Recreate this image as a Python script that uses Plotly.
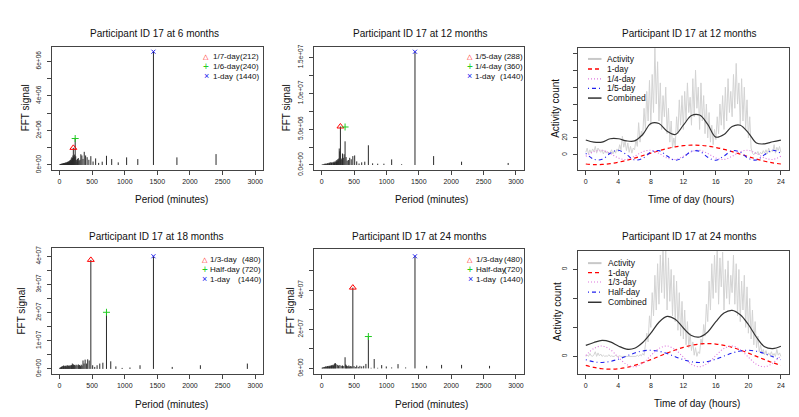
import plotly.graph_objects as go

W, H = 799, 417
FONT = "Liberation Sans, Arial, sans-serif"

# ---------------- FFT spectra (period in minutes -> FFT signal) ----------------
fft6_period = [2400, 1800, 1440, 1200, 1028.6, 900, 800, 720, 654.5, 600, 553.8, 514.3, 480, 450,
               423.5, 400, 378.9, 360, 342.9, 327.3, 313.0, 300, 288, 276.9, 266.7, 257.1, 248.3, 240,
               232.3, 225, 218.2, 211.8, 205.7, 200, 194.6, 189.5, 184.6, 180, 175.6, 171.4, 167.4,
               163.6, 160, 156.5, 150, 144, 138.5, 133.3, 128.6, 124.1, 120, 114.3, 109.1, 102.9, 96,
               90, 84.7, 80, 75, 70, 65, 60, 55, 50, 45, 40, 35, 30, 25, 20, 15, 10, 5]
fft6_signal = [0.63e6, 0.44e6, 6.55e6, 0.34e6, 0.44e6, 0.15e6, 0.34e6, 0.53e6, 0.19e6, 0.12e6, 0.38e6,
               0.2e6, 0.51e6, 0.3e6, 0.45e6, 0.55e6, 0.76e6, 0.35e6, 0.55e6, 0.62e6, 0.3e6, 0.25e6,
               0.4e6, 0.35e6, 0.2e6, 0.3e6, 0.5e6, 1.53e6, 0.6e6, 0.45e6, 0.5e6, 0.99e6, 0.55e6, 0.4e6,
               0.3e6, 0.45e6, 0.25e6, 0.38e6, 0.22e6, 0.3e6, 0.18e6, 0.28e6, 0.2e6, 0.25e6, 0.18e6,
               0.22e6, 0.15e6, 0.2e6, 0.14e6, 0.18e6, 0.12e6, 0.16e6, 0.12e6, 0.15e6, 0.1e6, 0.14e6,
               0.1e6, 0.12e6, 0.09e6, 0.11e6, 0.08e6, 0.1e6, 0.07e6, 0.09e6, 0.06e6, 0.08e6, 0.05e6,
               0.07e6, 0.05e6, 0.06e6, 0.04e6, 0.05e6, 0.03e6]

fft12_period = [2880, 2160, 1728, 1440, 1234.3, 1080, 960, 864, 785.5, 720, 664.6, 617.1, 576, 540,
                508.2, 480, 454.7, 432, 411.4, 392.7, 375.7, 360, 345.6, 332.3, 320, 308.6, 297.9, 288,
                278.7, 270, 261.8, 254.1, 246.9, 240, 233.5, 227.4, 221.5, 216, 205.7, 196.4, 188, 180,
                172.8, 160, 150, 140, 130, 120, 110, 100, 90, 80, 70, 60, 50, 40, 30, 20, 10, 5]
fft12_signal = [0.28e6, 0.46e6, 1.24e6, 15.8e6, 0.1e6, 0.78e6, 0.18e6, 0.18e6, 0.23e6, 2.75e6, 0.46e6,
                0.37e6, 0.2e6, 0.5e6, 1.33e6, 1.24e6, 0.8e6, 1.0e6, 0.7e6, 0.6e6, 1.1e6, 3.3e6, 1.5e6,
                1.0e6, 1.6e6, 0.9e6, 0.7e6, 5.37e6, 1.9e6, 2.3e6, 0.9e6, 0.6e6, 0.8e6, 0.5e6, 0.7e6,
                0.45e6, 0.6e6, 0.4e6, 0.5e6, 0.35e6, 0.45e6, 0.3e6, 0.4e6, 0.3e6, 0.35e6, 0.25e6, 0.4e6,
                0.25e6, 0.3e6, 0.2e6, 0.25e6, 0.15e6, 0.2e6, 0.15e6, 0.2e6, 0.12e6, 0.1e6, 0.08e6,
                0.05e6, 0.04e6]

fft18_period = [2880, 2160, 1728, 1440, 1234.3, 1080, 960, 864, 785.5, 720, 664.6, 617.1, 576, 540,
                508.2, 480, 454.7, 432, 411.4, 392.7, 375.7, 360, 345.6, 332.3, 320, 308.6, 297.9, 288,
                270, 254.1, 240, 227.4, 216, 205.7, 196.4, 188, 180, 172.8, 160, 150, 140, 130, 120,
                110, 100, 90, 80, 70, 60, 50, 40, 30, 20, 10, 5]
fft18_signal = [0.19e7, 0.13e7, 0.07e7, 4.0e7, 0.13e7, 0.05e7, 0.035e7, 0.09e7, 0.27e7, 2.01e7, 0.22e7,
                0.19e7, 0.13e7, 0.07e7, 0.13e7, 3.87e7, 0.3e7, 0.34e7, 0.19e7, 0.33e7, 0.19e7, 0.3e7,
                0.12e7, 0.15e7, 0.1e7, 0.14e7, 0.12e7, 0.16e7, 0.13e7, 0.15e7, 0.12e7, 0.14e7, 0.16e7,
                0.13e7, 0.19e7, 0.12e7, 0.14e7, 0.11e7, 0.13e7, 0.1e7, 0.12e7, 0.1e7, 0.13e7, 0.09e7,
                0.12e7, 0.1e7, 0.11e7, 0.08e7, 0.12e7, 0.09e7, 0.1e7, 0.07e7, 0.06e7, 0.05e7, 0.03e7]

fft24_period = [2592, 2160, 1851.4, 1620, 1440, 1296, 1178.2, 1080, 996.9, 925.7, 864, 810, 762.4, 720,
                682.1, 648, 617.1, 589.1, 563.5, 540, 518.4, 498.5, 480, 462.9, 446.9, 432, 418.1, 405,
                392.7, 381.2, 370.3, 360, 340, 320, 300, 280, 260, 240, 220, 210, 200, 190, 180, 170,
                160, 150, 140, 130, 120, 110, 100, 90, 80, 70, 60, 50, 40, 30, 20, 10, 5]
fft24_signal = [0.13e7, 0.18e7, 0.18e7, 0.13e7, 5.73e7, 0.05e7, 0.22e7, 0.05e7, 0.1e7, 0.17e7, 0.03e7,
                0.48e7, 0.03e7, 1.63e7, 0.23e7, 0.13e7, 0.1e7, 0.13e7, 0.08e7, 0.15e7, 0.07e7, 0.12e7,
                4.13e7, 0.1e7, 0.12e7, 0.1e7, 0.15e7, 0.1e7, 0.12e7, 0.15e7, 0.2e7, 0.57e7, 0.12e7,
                0.15e7, 0.13e7, 0.17e7, 0.15e7, 0.18e7, 0.22e7, 0.27e7, 0.25e7, 0.2e7, 0.15e7, 0.18e7,
                0.13e7, 0.16e7, 0.12e7, 0.15e7, 0.11e7, 0.13e7, 0.1e7, 0.12e7, 0.1e7, 0.09e7, 0.1e7,
                0.08e7, 0.07e7, 0.06e7, 0.05e7, 0.04e7, 0.03e7]

# highlighted peaks
peak6_period = [212, 240, 1440]
peak6_signal = [0.99e6, 1.53e6, 6.55e6]
peak6_label = ["1/7-day", "1/6-day", "1-day"]
peak12_period = [288, 360, 1440]
peak12_signal = [5.37e6, 5.30e6, 15.8e6]
peak12_label = ["1/5-day", "1/4-day", "1-day"]
peak18_period = [480, 720, 1440]
peak18_signal = [3.87e7, 2.01e7, 4.00e7]
peak18_label = ["1/3-day", "Half-day", "1-day"]
peak24_period = [480, 720, 1440]
peak24_signal = [4.13e7, 1.63e7, 5.73e7]
peak24_label = ["1/3-day", "Half-day", "1-day"]

# ---------------- Daily activity profiles ----------------
minutes = list(range(0, 1441, 10))
act12 = [3, 8, 1, 6, 2, 7, 4, 10, 2, 8, 5, 3, 6, 1, 5, 2, 4, 0, 3, 6, 1, 5, 2, 7,
         4, 12, 6, 22, 9, 16, 5, 14, 3, 10, 2, 8, 6, 18, 10, 38, 15, 28, 22, 55, 30, 75, 40, 88,
         35, 95, 50, 128, 60, 110, 40, 85, 30, 70, 45, 80, 25, 55, 15, 40, 8, 20,
         10, 45, 25, 65, 35, 70, 30, 75, 40, 85, 50, 68, 35, 90, 45, 100, 55, 80,
         30, 85, 40, 70, 25, 60, 20, 50, 15, 35, 12, 30, 18, 45, 25, 60, 35, 70,
         30, 80, 40, 90, 50, 75, 45, 95, 55, 108, 60, 85, 35, 90, 40, 80, 30, 65,
         20, 45, 8, 2, 0, 3, 1, 4, 0, 3, 1, 5, 2, 6, 1, 8, 3, 5, 4, 12, 2, 9, 5, 10, 3]
act24 = [0, 2, 0, 5, 1, 0, 3, 8, 0, 6, 1, 4, 0, 2, 0, 1, 0, 3, 0, 1, 0, 0, 2, 0,
         0, 1, 0, 0, 0, 1, 0, 0, 1, 0, 0, 0, 1, 0, 2, 0, 3, 1, 5, 2, 20, 40, 25, 70,
         50, 110, 70, 140, 80, 160, 90, 175, 110, 190, 100, 185, 80, 170, 95, 150, 70, 140,
         60, 130, 45, 110, 35, 95, 30, 80, 20, 60, 15, 40, 10, 25, 2, 15, 0, 8,
         5, 30, 20, 55, 35, 90, 60, 130, 80, 160, 100, 175, 110, 195, 90, 170, 120, 180,
         80, 150, 100, 165, 90, 140, 110, 175, 90, 160, 70, 150, 60, 130, 80, 140, 50, 120,
         40, 100, 30, 80, 20, 60, 15, 35, 8, 20, 5, 12, 3, 10, 1, 6, 2, 8, 1, 5, 0, 12, 2, 6, 0]

hours = list(range(25))
m12_oneday = [-10.8, -11.5, -11.3, -10.4, -8.7, -6.5, -3.8, -0.9, 2.1, 4.9, 7.5, 9.5, 10.8, 11.5,
              11.3, 10.4, 8.7, 6.5, 3.8, 0.9, -2.1, -4.9, -7.5, -9.5, -10.8]
m12_quarter = [-1.7, 3.7, 5.4, 1.7, -3.7, -5.4, -1.7, 3.7, 5.4, 1.7, -3.7, -5.4, -1.7, 3.7, 5.4, 1.7,
               -3.7, -5.4, -1.7, 3.7, 5.4, 1.7, -3.7, -5.4, -1.7]
m12_fifth = [1.8, -5.3, -5.3, 1.8, 5.4, 0.3, -6.0, -4.2, 3.2, 5.0, -1.3, -6.4, -2.8, 4.3, 4.3, -2.8,
             -6.4, -1.3, 5.0, 3.2, -4.2, -6.0, 0.3, 5.4, 1.8]
m12_combined = [17.5, 15, 15, 19, 19, 16.5, 16.5, 24, 37, 37, 28, 24, 35, 46.5, 47, 36, 21, 24, 33.5,
                35, 26, 14, 13, 15.5, 17.5]

m24_oneday = [-15.6, -19.1, -21.3, -22, -21.3, -19.1, -15.6, -11, -5.7, 0, 5.7, 11, 15.6, 19.1, 21.3,
              22, 21.3, 19.1, 15.6, 11, 5.7, 0, -5.7, -11, -15.6]
m24_third = [1.4, 13.7, 17.9, 11.7, -1.4, -13.7, -17.9, -11.7, 1.4, 13.7, 17.9, 11.7, -1.4, -13.7,
             -17.9, -11.7, 1.4, 13.7, 17.9, 11.7, -1.4, -13.7, -17.9, -11.7, 1.4]
m24_half = [-5.7, -9.4, -10.5, -8.8, -4.8, 0.5, 5.7, 9.4, 10.5, 8.8, 4.8, -0.5, -5.7, -9.4, -10.5,
            -8.8, -4.8, 0.5, 5.7, 9.4, 10.5, 8.8, 4.8, -0.5, -5.7]
m24_combined = [19, 24, 27.5, 25, 18, 12.5, 14, 24, 40, 59, 69, 64, 49, 36, 33.5, 42, 60, 75, 79.5, 72,
                55, 33, 16.5, 13.5, 17.5]

for a, b in [(fft6_period, fft6_signal), (fft12_period, fft12_signal), (fft18_period, fft18_signal),
             (fft24_period, fft24_signal), (minutes, act12), (minutes, act24)]:
    assert len(a) == len(b), (len(a), len(b))

# ---------------- styling ----------------
AX = "#444444"
RED, GREEN, BLUE, VIOLET = "#ff0000", "#22cc22", "#2020ee", "#dd77dd"
DASH, DOT, DASHDOT = "4px,3px", "1px,2px", "1px,3px,4px,3px"
SYMBOLS = ["triangle-up-open", "cross-thin-open", "x-thin-open"]
SYM_COL = [RED, GREEN, BLUE]
SYM_SIZE = [6, 5, 4]
SYM_TXT = ["\u25B3", "+", "\u00D7"]

fig = go.Figure()


def add_fft(n, period, signal, pk_period, pk_signal):
    xs, ys = [], []
    for p, s in zip(period, signal):
        xs += [p, p, None]
        ys += [0, s, None]
    fig.add_trace(go.Scatter(x=xs, y=ys, mode="lines", line=dict(color="#2a2a2a", width=1),
                             xaxis=f"x{n}", yaxis=f"y{n}"))
    for i in range(3):
        fig.add_trace(go.Scatter(x=[pk_period[i]], y=[pk_signal[i]], mode="markers",
                                 marker=dict(symbol=SYMBOLS[i], size=SYM_SIZE[i], color=SYM_COL[i],
                                             line=dict(width=1, color=SYM_COL[i])),
                                 xaxis=f"x{n}", yaxis=f"y{n}"))


def add_daily(n, act, comps, combined):
    fig.add_trace(go.Scatter(x=[m / 60 for m in minutes], y=act, mode="lines",
                             line=dict(color="#d3d3d3", width=1), xaxis=f"x{n}", yaxis=f"y{n}"))
    for vals, col, dash, w in comps:
        fig.add_trace(go.Scatter(x=hours, y=vals, mode="lines", line_shape="spline",
                                 line=dict(color=col, dash=dash, width=w),
                                 xaxis=f"x{n}", yaxis=f"y{n}"))
    fig.add_trace(go.Scatter(x=hours, y=combined, mode="lines", line_shape="spline",
                             line=dict(color="#333333", width=1.2), xaxis=f"x{n}", yaxis=f"y{n}"))


add_fft(1, fft6_period, fft6_signal, peak6_period, peak6_signal)
add_fft(2, fft12_period, fft12_signal, peak12_period, peak12_signal)
add_daily(3, act12, [(m12_oneday, RED, DASH, 1.2), (m12_quarter, VIOLET, DOT, 1.1),
                     (m12_fifth, BLUE, DASHDOT, 1.1)], m12_combined)
add_fft(4, fft18_period, fft18_signal, peak18_period, peak18_signal)
add_fft(5, fft24_period, fft24_signal, peak24_period, peak24_signal)
add_daily(6, act24, [(m24_oneday, RED, DASH, 1.2), (m24_third, VIOLET, DOT, 1.1),
                     (m24_half, BLUE, DASHDOT, 1.1)], m24_combined)

# panel boxes in pixels: (x0, x1, ytop, ybottom)
boxes = {1: (43.7, 255, 37, 162), 2: (306, 515.7, 37, 162), 3: (570, 780.7, 38, 162),
         4: (43.7, 255, 242.3, 370.7), 5: (306, 515.7, 243.3, 370.7), 6: (570, 780.7, 245, 370.7)}

per_ticks = [0, 500, 1000, 1500, 2000, 2500, 3000]
hr_ticks = [0, 4, 8, 12, 16, 20, 24]
yspec = {
    1: ([-0.262e6, 6.81e6], [0, 1e6, 2e6, 3e6, 4e6, 5e6, 6e6],
        ["0e+00", "", "2e+06", "", "4e+06", "", "6e+06"]),
    2: ([-0.63e6, 16.43e6], [0, 2.5e6, 5e6, 7.5e6, 1e7, 1.25e7, 1.5e7],
        ["0.0e+00", "", "5.0e+06", "", "1.0e+07", "", "1.5e+07"]),
    3: ([-17.3, 126], [0, 20, 40, 60, 80, 100, 120], ["0", "20", "", "", "", "", ""]),
    4: ([-0.17e7, 4.29e7], [0, 0.5e7, 1e7, 1.5e7, 2e7, 2.5e7, 3e7, 3.5e7, 4e7],
        ["0e+00", "", "1e+07", "", "2e+07", "", "3e+07", "", "4e+07"]),
    5: ([-0.27e7, 6.1e7], [0, 1e7, 2e7, 3e7, 4e7, 5e7],
        ["0e+00", "", "2e+07", "", "4e+07", ""]),
    6: ([-29.9, 182.4], [0, 50, 100, 150], ["0", "", "", "0"]),
}

layout = dict(width=W, height=H, margin=dict(l=0, r=0, t=0, b=0), paper_bgcolor="white",
              plot_bgcolor="white", showlegend=False, hovermode=False,
              font=dict(family=FONT, color="#222"))
for n, (x0, x1, yt, yb) in boxes.items():
    daily = n in (3, 6)
    common = dict(showline=True, mirror=True, linecolor=AX, linewidth=1, ticks="outside", ticklen=4,
                  tickwidth=1, tickcolor=AX, showgrid=False, zeroline=False)
    layout[f"xaxis{n}"] = dict(domain=[x0 / W, x1 / W], anchor=f"y{n}",
                               range=[-0.96, 24.96] if daily else [-120, 3120],
                               tickvals=hr_ticks if daily else per_ticks,
                               ticktext=[str(v) for v in (hr_ticks if daily else per_ticks)],
                               tickfont=dict(size=7, color="#222"), ticklabelstandoff=1, **common)
    rng, tv, tt = yspec[n]
    layout[f"yaxis{n}"] = dict(domain=[1 - yb / H, 1 - yt / H], anchor=f"x{n}", range=rng,
                               tickvals=tv, ticktext=tt, tickangle=-90,
                               tickfont=dict(size=6.5, color="#222"), ticklabelstandoff=3, **common)

annotations = []
shapes = []


def ann(text, x, y, size, xanchor="center", angle=0, color="#111"):
    annotations.append(dict(text=text, x=x / W, y=1 - y / H, xref="paper", yref="paper",
                            showarrow=False, font=dict(size=size, color=color, family=FONT),
                            xanchor=xanchor, yanchor="middle", textangle=angle))


# titles
titles = {1: ("Participant ID 17 at 6 months", 146.3, 22.7),
          2: ("Participant ID 17 at 12 months", 412.2, 22.7),
          3: ("Participant ID 17 at 12 months", 681.3, 22.7),
          4: ("Participant ID 17 at 18 months", 148.3, 230),
          5: ("Participant ID 17 at 24 months", 411.7, 230),
          6: ("Participant ID 17 at 24 months", 681.3, 230)}
for n, (t, x, y) in titles.items():
    ann(t, x, y, 10)

# axis titles
xt = {1: (163.7, 192.3), 2: (423, 192.3), 3: (683.3, 192.3), 4: (163.7, 402.3), 5: (423, 402.3),
      6: (688.7, 401)}
yt = {1: 17, 2: 278, 3: 548, 4: 13.7, 5: 282, 6: 549}
for n in boxes:
    daily = n in (3, 6)
    ann("Time of day (hours)" if daily else "Period (minutes)", xt[n][0], xt[n][1], 10)
    x0, x1, ytop, ybot = boxes[n]
    ann("Activity count" if daily else "FFT signal", yt[n], (ytop + ybot) / 2, 10, angle=-90)

# FFT legends
fft_leg = {1: (peak6_label, peak6_period, 198.3, 202.7, 253.3, [46.5, 56.7, 66.7]),
           2: (peak12_label, peak12_period, 461.7, 465, 516.5, [46.7, 57, 66.7]),
           4: (peak18_label, peak18_period, 196.7, 200, 255, [254.3, 264.3, 274.3]),
           5: (peak24_label, peak24_period, 462, 465.5, 516.5, [254.3, 264.3, 274.3])}
for n, (labs, pers, sx, nx, vx, rows) in fft_leg.items():
    for i in range(3):
        ann(SYM_TXT[i], sx, rows[i], [7, 10, 9][i], color=SYM_COL[i])
        ann(labs[i], nx, rows[i], 8, xanchor="left")
        ann(f"({pers[i]})", vx, rows[i], 8, xanchor="right")

# line legends for daily panels
line_leg = {3: (["Activity", "1-day", "1/4-day", "1/5-day", "Combined"], 596.7, [49, 59.3, 69.3, 79, 89]),
            6: (["Activity", "1-day", "1/3-day", "Half-day", "Combined"], 598, [257.7, 267.3, 277, 287.3, 297.7])}
line_sty = [("#c8c8c8", "solid", 2), (RED, DASH, 1.3), (VIOLET, DOT, 1.2), (BLUE, DASHDOT, 1.2),
            ("#333333", "solid", 1.5)]
for n, (labs, tx, rows) in line_leg.items():
    for i in range(5):
        col, dash, w = line_sty[i]
        shapes.append(dict(type="line", xref="paper", yref="paper", x0=580 / W, x1=593.5 / W,
                           y0=1 - rows[i] / H, y1=1 - rows[i] / H,
                           line=dict(color=col, dash=dash, width=w)))
        ann(labs[i], tx, rows[i], 8.5, xanchor="left")

layout["annotations"] = annotations
layout["shapes"] = shapes
fig.update_layout(**layout)
fig.write_html("out.html")
